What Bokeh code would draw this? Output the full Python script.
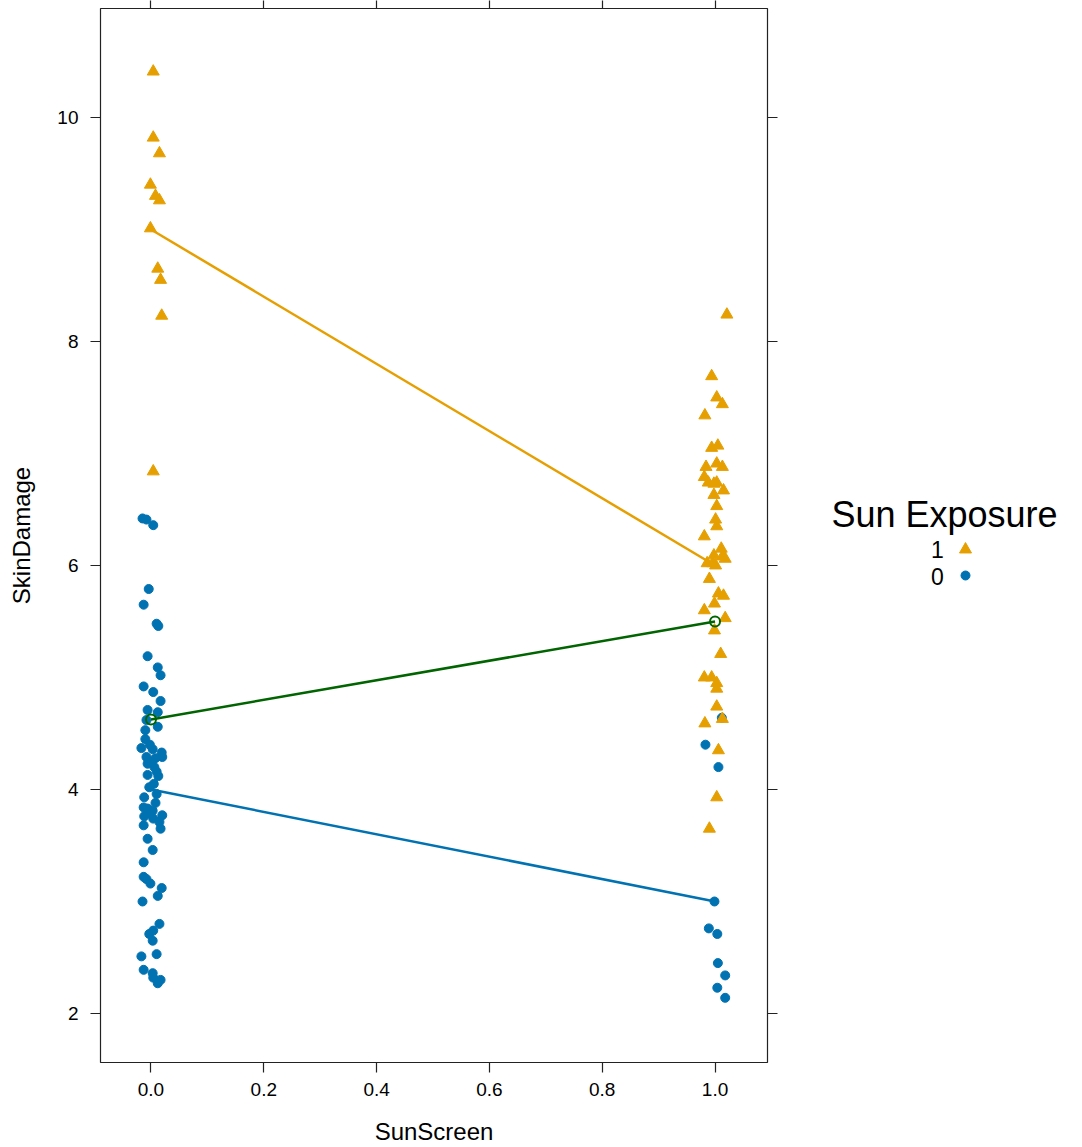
from bokeh.plotting import figure
from bokeh.models import Range1d, LinearAxis, FixedTicker, PrintfTickFormatter
from bokeh.layouts import row
from bokeh.core.properties import value
from bokeh.embed import file_html
from bokeh.resources import INLINE

# ---------------- data ----------------
sunscreen_levels = [0.0, 1.0]
x_ticks = [0.0, 0.2, 0.4, 0.6, 0.8, 1.0]
y_ticks = [2, 4, 6, 8, 10]

# Sun exposure 1, SunScreen 0 : horizontal jitter and damage
exp1_ss0_jitter = [0.004, 0.004, 0.015, -0.001, 0.008, 0.015, -0.001, 0.012, 0.017, 0.019, 0.004]
exp1_ss0_damage = [10.41, 9.82, 9.68, 9.40, 9.30, 9.26, 9.01, 8.65, 8.55, 8.23, 6.84]

# Sun exposure 0, SunScreen 0
exp0_ss0_jitter = [-0.015, -0.008, 0.004, -0.004, -0.013, 0.010, 0.013, -0.006, 0.012, 0.017,
                   -0.013, 0.004, 0.017, -0.006, 0.012, -0.008, 0.012, -0.010, -0.010, -0.017,
                   0.003, 0.019, 0.020, -0.008, 0.008, -0.006, 0.006, -0.006, 0.013, -0.003,
                   0.010, -0.012, -0.013, -0.006, 0.003, 0.020, -0.012, 0.004, 0.015, -0.013,
                   0.017, -0.006, 0.003, -0.013, -0.013, -0.008, -0.001, 0.019, 0.012, -0.015,
                   0.015, 0.004, -0.003, 0.003, 0.010, -0.017, -0.013, 0.003, 0.004, 0.017,
                   0.012, -0.002, 0.001, 0.010, 0.005, 0.008, -0.004]
exp0_ss0_damage = [6.42, 6.41, 6.36, 5.79, 5.65, 5.48, 5.46, 5.19, 5.09, 5.02,
                   4.92, 4.87, 4.79, 4.71, 4.69, 4.62, 4.56, 4.53, 4.45, 4.37,
                   4.36, 4.33, 4.29, 4.29, 4.28, 4.23, 4.20, 4.13, 4.12, 4.02,
                   3.96, 3.93, 3.84, 3.83, 3.81, 3.77, 3.76, 3.74, 3.71, 3.68,
                   3.65, 3.56, 3.46, 3.35, 3.22, 3.20, 3.16, 3.12, 3.05, 3.00,
                   2.80, 2.74, 2.71, 2.65, 2.53, 2.51, 2.39, 2.36, 2.32, 2.30,
                   2.27, 4.40, 4.25, 4.16, 4.05, 3.88, 3.79]

# Sun exposure 1, SunScreen 1
exp1_ss1_jitter = [0.021, -0.006, 0.003, 0.013, -0.018, -0.006, 0.005, -0.016, 0.003, 0.013,
                   -0.019, -0.012, -0.002, 0.003, 0.015, -0.002, 0.003, 0.001, 0.003, -0.019,
                   0.011, -0.002, 0.013, 0.018, -0.014, -0.004, 0.001, -0.010, 0.006, 0.015,
                   -0.001, -0.019, 0.018, -0.001, 0.010, -0.019, -0.006, 0.003, 0.003, 0.003,
                   -0.018, 0.013, 0.006, 0.003, -0.010]
exp1_ss1_damage = [8.24, 7.69, 7.50, 7.44, 7.34, 7.05, 7.07, 6.88, 6.91, 6.88,
                   6.79, 6.74, 6.73, 6.74, 6.67, 6.63, 6.53, 6.41, 6.35, 6.26,
                   6.15, 6.09, 6.08, 6.06, 6.02, 6.02, 6.00, 5.88, 5.75, 5.73,
                   5.66, 5.60, 5.53, 5.42, 5.21, 5.00, 5.00, 4.95, 4.90, 4.74,
                   4.59, 4.63, 4.35, 3.93, 3.65]

# Sun exposure 0, SunScreen 1
exp0_ss1_jitter = [0.012, -0.017, 0.006, -0.001, -0.011, 0.004, 0.005, 0.018, 0.004, 0.018]
exp0_ss1_damage = [4.64, 4.40, 4.20, 3.00, 2.76, 2.71, 2.45, 2.34, 2.23, 2.14]

# group means (lines)
mean_exposure1 = [9.0, 6.0]
mean_exposure0 = [4.0, 3.0]
mean_overall = [4.625, 5.5]

legend_title = "Sun Exposure"
legend_labels = ["1", "0"]

ORANGE = "#E69F00"
BLUE = "#0072B2"
GREEN = "#006400"
FONT = "Liberation Sans"
EDGE = "#222222"

# ---------------- main panel ----------------
p = figure(width=790, height=1147, output_backend="svg", toolbar_location=None,
           x_range=Range1d(-0.0895, 1.093), y_range=Range1d(1.5625, 10.973),
           min_border_left=100, min_border_right=23, min_border_top=8, min_border_bottom=85,
           x_axis_label="SunScreen", y_axis_label="SkinDamage")
p.xgrid.visible = False
p.ygrid.visible = False
p.outline_line_color = EDGE
p.outline_line_width = 1.2
p.background_fill_color = "white"
p.border_fill_color = "white"

for ax in p.xaxis:
    ax.ticker = FixedTicker(ticks=x_ticks)
    ax.formatter = PrintfTickFormatter(format="%.1f")
for ax in p.yaxis:
    ax.ticker = FixedTicker(ticks=y_ticks)
    ax.formatter = PrintfTickFormatter(format="%d")

for ax in list(p.xaxis) + list(p.yaxis):
    ax.axis_line_color = None
    ax.major_tick_in = 0
    ax.major_tick_out = 10
    ax.major_tick_line_color = EDGE
    ax.major_tick_line_width = 1.2
    ax.minor_tick_line_color = None
    ax.major_label_text_font = FONT
    ax.major_label_text_font_size = "19px"
    ax.major_label_text_color = "black"
    ax.axis_label_text_font = FONT
    ax.axis_label_text_font_size = "24px"
    ax.axis_label_text_font_style = "normal"
    ax.axis_label_text_color = "black"
p.yaxis.major_label_orientation = "horizontal"
p.yaxis.major_label_standoff = 12
p.yaxis.axis_label_standoff = 19
p.xaxis.major_label_standoff = 10
p.xaxis.axis_label_standoff = 19

# tick-only axes on top and right (labels left empty)
top_ax = LinearAxis(ticker=FixedTicker(ticks=x_ticks),
                    major_label_overrides={t: "" for t in x_ticks},
                    axis_line_color=None, major_tick_in=0, major_tick_out=8,
                    major_tick_line_color=EDGE, major_tick_line_width=1.2,
                    minor_tick_line_color=None, major_label_standoff=0)
right_ax = LinearAxis(ticker=FixedTicker(ticks=y_ticks),
                      major_label_overrides={t: "" for t in y_ticks},
                      axis_line_color=None, major_tick_in=0, major_tick_out=10,
                      major_tick_line_color=EDGE, major_tick_line_width=1.2,
                      minor_tick_line_color=None, major_label_standoff=0)
p.add_layout(top_ax, "above")
p.add_layout(right_ax, "right")

# points
x00 = [sunscreen_levels[0] + j for j in exp0_ss0_jitter]
x01 = [sunscreen_levels[1] + j for j in exp0_ss1_jitter]
x10 = [sunscreen_levels[0] + j for j in exp1_ss0_jitter]
x11 = [sunscreen_levels[1] + j for j in exp1_ss1_jitter]

p.scatter(x00, exp0_ss0_damage, marker="circle", size=9, fill_color=BLUE, line_color=BLUE)
p.scatter(x01, exp0_ss1_damage, marker="circle", size=9, fill_color=BLUE, line_color=BLUE)
p.scatter(x10, exp1_ss0_damage, marker="triangle", size=12, fill_color=ORANGE, line_color=ORANGE)
p.scatter(x11, exp1_ss1_damage, marker="triangle", size=12, fill_color=ORANGE, line_color=ORANGE)

# mean lines
p.line(sunscreen_levels, mean_exposure1, line_color=ORANGE, line_width=2.5)
p.line(sunscreen_levels, mean_exposure0, line_color=BLUE, line_width=2.5)
p.line(sunscreen_levels, mean_overall, line_color=GREEN, line_width=2.5)
p.scatter(sunscreen_levels, mean_overall, marker="circle", size=10, fill_color=None,
          line_color=GREEN, line_width=2)

# ---------------- legend panel ----------------
# In a row, Bokeh aligns this frame with the main frame (page rows 8..1062),
# so the y range is expressed in page pixel rows.
lg = figure(width=292, height=1147, output_backend="svg", toolbar_location=None,
            x_range=Range1d(0, 292), y_range=Range1d(1062, 8),
            x_axis_type=None, y_axis_type=None, title=None,
            min_border=0, min_border_left=0, min_border_right=0,
            min_border_top=8, min_border_bottom=85)
lg.xgrid.visible = False
lg.ygrid.visible = False
lg.outline_line_color = None
lg.border_fill_color = "white"

lg.text(x=[154], y=[514], text=[legend_title], text_font=value(FONT), text_font_size="36px",
        text_align="center", text_baseline="middle", text_color="black")
lg.text(x=[147, 147], y=[549, 576], text=legend_labels, text_font=value(FONT),
        text_font_size="23px", text_align="center", text_baseline="middle", text_color="black")
lg.scatter([175], [549], marker="triangle", size=12, fill_color=ORANGE, line_color=ORANGE)
lg.scatter([175], [575], marker="circle", size=9, fill_color=BLUE, line_color=BLUE)

layout = row(p, lg, spacing=0)
open("out.html", "w").write(file_html(layout, INLINE))
